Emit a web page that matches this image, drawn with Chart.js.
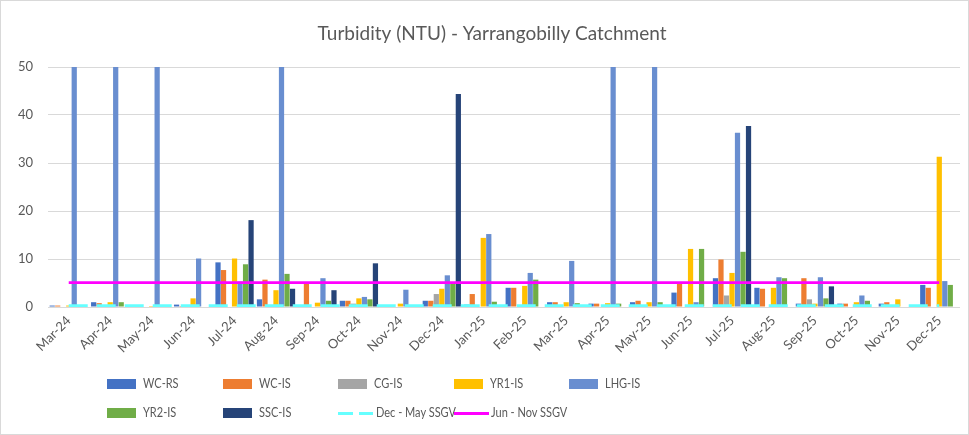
<!DOCTYPE html>
<html>
<head>
<meta charset="utf-8">
<script src="https://cdn.jsdelivr.net/npm/chart.js@4.4.1/dist/chart.umd.min.js"></script>
<style>
  html, body { margin: 0; padding: 0; background: #fff; }
  #wrap { position: relative; width: 969px; height: 435px; overflow: hidden; }
  #frame { position: absolute; left: 0; top: 0; right: 0; bottom: 0; border: 1px solid #d9d9d9; pointer-events: none; }
  #turbChart { position: absolute; left: 0; top: 0; }
  .lg-sym { position: absolute; }
  .lg-text { position: absolute; font: 12.5px Lato, "Liberation Sans", sans-serif; color: #595959; line-height: 16px;
             white-space: nowrap; transform: scaleX(0.88); transform-origin: 0 50%; }
</style>
</head>
<body>
<div id="wrap">
  <canvas id="turbChart" width="969" height="435"></canvas>
  <div id="legend"></div>
  <div id="frame"></div>
</div>
<script>
// --- Data (NTU) ---
const months = [
  "Mar-24", "Apr-24", "May-24", "Jun-24", "Jul-24", "Aug-24", "Sep-24", "Oct-24",
  "Nov-24", "Dec-24", "Jan-25", "Feb-25", "Mar-25", "Apr-25", "May-25", "Jun-25",
  "Jul-25", "Aug-25", "Sep-25", "Oct-25", "Nov-25", "Dec-25"
];

const wcRs  = [0.3, 1.0, null, 0.5, 9.3, 1.6, null, 1.3, 0.4, 1.3, 0.5, 4.0, 1.0, 0.7, 1.0, 3.0, 6.0, 4.0, 0.7, 0.7, 0.7, 4.6];
const wcIs  = [0.3, 0.8, null, 0.2, 7.7, 5.7, 5.1, 1.3, null, 1.3, 2.7, 4.0, 1.0, 0.7, 1.3, 5.0, 9.9, 3.8, 6.0, 0.7, 1.0, 4.0];
const cgIs  = [null, null, null, null, null, null, null, 0.7, null, 2.7, null, null, null, null, null, null, 2.4, null, 1.6, null, null, null];
const yr1Is = [0.3, 1.0, 0.2, 1.8, 10.1, 3.5, 0.9, 1.8, 0.7, 3.8, 14.4, 4.4, 1.0, 0.8, 1.0, 12.1, 7.1, 4.0, 0.7, 1.0, 1.6, 31.3];
const lhgIs = [50, 50, 50, 10.1, 5.3, 50, 6.0, 2.1, 3.6, 6.6, 15.2, 7.1, 9.6, 50, 50, 1.0, 36.3, 6.2, 6.2, 2.4, null, 5.4];
const yr2Is = [null, 1.0, null, null, 8.9, 6.9, 1.3, 1.6, 0.3, 5.2, 1.1, 5.7, 0.8, 0.7, 1.0, 12.1, 11.5, 6.0, 1.8, 1.3, null, 4.6];
const sscIs = [null, null, null, null, 18.1, 3.8, 3.5, 9.1, null, 44.4, null, null, null, null, null, null, 37.7, null, 4.3, null, null, null];

const decMaySsgv = [0.3, 0.3, 0.3, 0.3, 0.3, 0.3, 0.3, 0.3, 0.3, 0.3, 0.3, 0.3, 0.3, 0.3, 0.3, 0.3, 0.3, 0.3, 0.3, 0.3, 0.3, 0.3];
const junNovSsgv = [5.1, 5.1, 5.1, 5.1, 5.1, 5.1, 5.1, 5.1, 5.1, 5.1, 5.1, 5.1, 5.1, 5.1, 5.1, 5.1, 5.1, 5.1, 5.1, 5.1, 5.1, 5.1];

const yTicks = [0, 10, 20, 30, 40, 50];

// --- Series styling ---
const barSeries = [
  { label: "WC-RS",  data: wcRs,  color: "#4472C4" },
  { label: "WC-IS",  data: wcIs,  color: "#ED7D31" },
  { label: "CG-IS",  data: cgIs,  color: "#A5A5A5" },
  { label: "YR1-IS", data: yr1Is, color: "#FFC000" },
  { label: "LHG-IS", data: lhgIs, color: "#698ED0" },
  { label: "YR2-IS", data: yr2Is, color: "#70AD47" },
  { label: "SSC-IS", data: sscIs, color: "#264478" }
];
const lineSeries = [
  { label: "Dec - May SSGV", data: decMaySsgv, color: "#66FFFF", dash: [19, 9] },
  { label: "Jun - Nov SSGV", data: junNovSsgv, color: "#FF00FF", dash: [] }
];

const FONT = "Lato, 'Liberation Sans', sans-serif";
const TEXT = "#595959";

const datasets = barSeries.map(s => ({
  type: "bar",
  label: s.label,
  data: s.data,
  backgroundColor: s.color,
  borderWidth: 0,
  categoryPercentage: 0.93,
  barPercentage: 0.95,
  order: 1
})).concat(lineSeries.map(s => ({
  type: "line",
  label: s.label,
  data: s.data,
  borderColor: s.color,
  backgroundColor: s.color,
  borderWidth: 2.75,
  borderDash: s.dash,
  pointRadius: 0,
  fill: false,
  order: 0
})));

// Excel centres the title over the plot rather than the canvas: nudge the title box
const titleShift = {
  id: "titleShift",
  afterLayout(c) {
    if (c.titleBlock) c.titleBlock.left += 24;
  }
};

const ctx = document.getElementById("turbChart").getContext("2d");
const chart = new Chart(ctx, {
  type: "bar",
  data: { labels: months, datasets },
  plugins: [titleShift],
  options: {
    responsive: false,
    animation: false,
    layout: { padding: { left: 0, right: 9, top: 0, bottom: 80 } },
    plugins: {
      legend: { display: false },
      tooltip: { enabled: false },
      title: {
        display: true,
        text: "Turbidity (NTU) - Yarrangobilly Catchment",
        color: TEXT,
        font: { family: FONT, size: 19, weight: "normal", lineHeight: 1.2 },
        padding: { top: 22, bottom: 22.2 }
      }
    },
    scales: {
      x: {
        ticks: {
          color: TEXT,
          font: { family: FONT, size: 13 },
          autoSkip: false,
          minRotation: 45,
          maxRotation: 45,
          padding: 6
        },
        grid: { display: false, drawTicks: false },
        border: { display: false },
        afterFit: s => { s.height = 48; }
      },
      y: {
        min: 0,
        max: 50,
        afterBuildTicks: s => { s.ticks = yTicks.map(v => ({ value: v })); },
        ticks: { color: TEXT, font: { family: FONT, size: 13 }, padding: 15 },
        grid: { color: "#D9D9D9", drawTicks: false },
        border: { display: false },
        afterFit: s => { s.width = 48; }
      }
    }
  }
});

// --- Legend (Excel style grid, 5 columns x 2 rows) ---
const legend = document.getElementById("legend");
const legendItems = barSeries.map(s => ({ label: s.label, color: s.color, kind: "box" }))
  .concat(lineSeries.map(s => ({ label: s.label, color: s.color, kind: s.dash.length ? "dash" : "line" })));

legendItems.forEach((item, i) => {
  const col = i % 5;
  const row = Math.floor(i / 5);
  const x = 107 + col * 115.5;
  const cy = 384 + row * 29;

  const sym = document.createElement("div");
  sym.className = "lg-sym";
  let textX;
  if (item.kind === "box") {
    sym.style.cssText = `left:${x}px;top:${cy - 5}px;width:29px;height:10px;background:${item.color};`;
    textX = x + 36;
  } else if (item.kind === "dash") {
    sym.style.cssText = `left:${x}px;top:${cy - 1.5}px;width:35px;height:3px;` +
      `background:linear-gradient(to right, ${item.color} 0 15px, transparent 15px 21px, ${item.color} 21px 35px);`;
    textX = x + 38;
  } else {
    sym.style.cssText = `left:${x}px;top:${cy - 1.5}px;width:35px;height:3px;background:${item.color};`;
    textX = x + 37;
  }
  legend.appendChild(sym);

  const txt = document.createElement("div");
  txt.className = "lg-text";
  txt.textContent = item.label;
  txt.style.left = textX + "px";
  txt.style.top = (cy - 8) + "px";
  legend.appendChild(txt);
});
</script>
</body>
</html>
